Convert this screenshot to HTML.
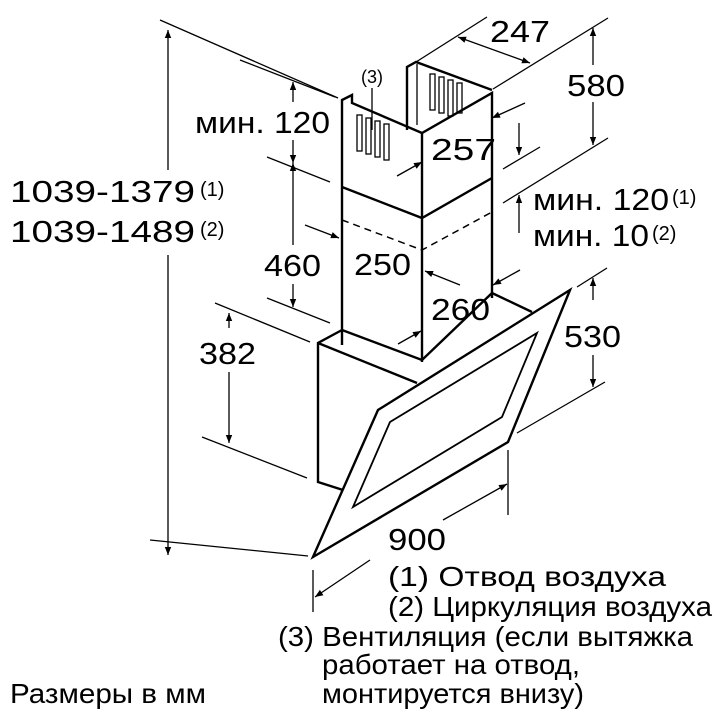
<!DOCTYPE html>
<html><head><meta charset="utf-8"><style>
html,body{margin:0;padding:0;background:#fff;}
svg{display:block;}
text{font-family:"Liberation Sans",sans-serif;fill:#000;}
</style></head><body>
<svg width="720" height="720" viewBox="0 0 720 720" xmlns="http://www.w3.org/2000/svg">
<defs>
<marker id="a" viewBox="0 0 10 10" refX="10" refY="5" markerWidth="10" markerHeight="8" orient="auto-start-reverse" markerUnits="userSpaceOnUse">
<path d="M0,1 L10,5 L0,9 Z" fill="#000"/>
</marker>
</defs>
<g stroke="#000" fill="none" stroke-width="1.3">
<line x1="160" y1="20" x2="338" y2="98"/>
<line x1="240" y1="60" x2="335" y2="97"/>
<line x1="267" y1="157" x2="330" y2="182"/>
<line x1="267" y1="298" x2="330" y2="323"/>
<line x1="215" y1="303" x2="310" y2="342"/>
<line x1="202" y1="437" x2="307" y2="478"/>
<line x1="150" y1="540" x2="308" y2="556"/>
<line x1="416" y1="62" x2="487" y2="17"/>
<line x1="493" y1="89" x2="608" y2="18"/>
<line x1="503" y1="169" x2="540" y2="147"/>
<line x1="503" y1="203" x2="608" y2="138"/>
<line x1="577" y1="287" x2="607" y2="268"/>
<line x1="517" y1="433" x2="605" y2="382"/>
<line x1="508" y1="450" x2="508" y2="515"/>
<line x1="313" y1="570" x2="313" y2="612"/>
<line x1="168" y1="30" x2="168" y2="170" marker-start="url(#a)"/>
<line x1="168" y1="255" x2="168" y2="555" marker-end="url(#a)"/>
<line x1="293" y1="82" x2="293" y2="102" marker-start="url(#a)"/>
<line x1="293" y1="140" x2="293" y2="163" marker-end="url(#a)"/>
<line x1="293" y1="163" x2="293" y2="245" marker-start="url(#a)"/>
<line x1="293" y1="284" x2="293" y2="307" marker-end="url(#a)"/>
<line x1="229" y1="313" x2="229" y2="328" marker-start="url(#a)"/>
<line x1="229" y1="372" x2="229" y2="443" marker-end="url(#a)"/>
<line x1="458" y1="37" x2="530" y2="63" marker-start="url(#a)" marker-end="url(#a)"/>
<line x1="593" y1="28" x2="593" y2="65" marker-start="url(#a)"/>
<line x1="593" y1="102" x2="593" y2="145" marker-end="url(#a)"/>
<line x1="525" y1="103" x2="492" y2="118" marker-end="url(#a)"/>
<line x1="519" y1="123" x2="519" y2="155" marker-end="url(#a)"/>
<line x1="519" y1="233" x2="519" y2="195" marker-end="url(#a)"/>
<line x1="397" y1="176" x2="422" y2="162" marker-end="url(#a)"/>
<line x1="305" y1="225" x2="339" y2="238" marker-end="url(#a)"/>
<line x1="460" y1="285" x2="425" y2="271" marker-end="url(#a)"/>
<line x1="398" y1="344" x2="421" y2="331" marker-end="url(#a)"/>
<line x1="520" y1="270" x2="493" y2="285" marker-end="url(#a)"/>
<line x1="593" y1="278" x2="593" y2="300" marker-start="url(#a)"/>
<line x1="593" y1="355" x2="593" y2="387" marker-end="url(#a)"/>
<line x1="443" y1="520" x2="507" y2="484" marker-end="url(#a)"/>
<line x1="370" y1="560" x2="315" y2="597" marker-end="url(#a)"/>
<line x1="372" y1="88" x2="372" y2="130"/>
</g>
<g stroke="#000" fill="none" stroke-width="2.4" stroke-linejoin="miter">
<polyline points="342,345 342,100 352,95 352,103 422,133 492,93 492,298"/>
<line x1="422" y1="133" x2="422" y2="362"/>
<polyline points="407,130 407,67 416,62 492,90"/>
<line x1="417" y1="64" x2="417" y2="125" stroke-width="1.3"/>
<polyline points="342,187 422,218 492,178"/>
<polyline points="342,330 422,360 492,293"/>
<polyline points="342,330 318,343 318,482 343,490"/>
<line x1="318" y1="343" x2="417" y2="383"/>
<polyline points="492,293 532,312"/>
<polygon points="570,290 508,442 313,557 378,410"/>
<polygon points="537,333 502,417 353,507 390,422" stroke-width="1.8"/>
</g>
<polyline points="342,220 422,250 492,212" stroke="#000" stroke-width="1.5" fill="none" stroke-dasharray="7,5"/>
<g stroke="#000" fill="none" stroke-width="1.3">
<rect x="357" y="115" width="5" height="36"/><rect x="366" y="118" width="5" height="36"/><rect x="375" y="121" width="5" height="36"/><rect x="384" y="124" width="5" height="36"/>
<rect x="430" y="74" width="5" height="36"/><rect x="439" y="77" width="5" height="36"/><rect x="448" y="80" width="5" height="36"/><rect x="457" y="83" width="5" height="30"/>
</g>
<g font-size="31">
<text x="10" y="202" textLength="185" lengthAdjust="spacingAndGlyphs">1039-1379</text><text x="200" y="196" font-size="20">(1)</text>
<text x="10" y="242" textLength="185" lengthAdjust="spacingAndGlyphs">1039-1489</text><text x="200" y="236" font-size="20">(2)</text>
<text x="195" y="133" textLength="135" lengthAdjust="spacingAndGlyphs">мин. 120</text>
<text x="264" y="276" textLength="57" lengthAdjust="spacingAndGlyphs">460</text>
<text x="199" y="364" textLength="57" lengthAdjust="spacingAndGlyphs">382</text>
<text x="490" y="42" textLength="60" lengthAdjust="spacingAndGlyphs">247</text>
<text x="567" y="96" textLength="58" lengthAdjust="spacingAndGlyphs">580</text>
<text x="431" y="160" textLength="65" lengthAdjust="spacingAndGlyphs">257</text>
<text x="354" y="275" textLength="57" lengthAdjust="spacingAndGlyphs">250</text>
<text x="431" y="320" textLength="59" lengthAdjust="spacingAndGlyphs">260</text>
<text x="564" y="347" textLength="57" lengthAdjust="spacingAndGlyphs">530</text>
<text x="388" y="550" textLength="58" lengthAdjust="spacingAndGlyphs">900</text>
<text x="533" y="210" textLength="136" lengthAdjust="spacingAndGlyphs">мин. 120</text><text x="672" y="204" font-size="20">(1)</text>
<text x="533" y="246" textLength="116" lengthAdjust="spacingAndGlyphs">мин. 10</text><text x="652" y="240" font-size="20">(2)</text>
</g>
<text x="361" y="83" font-size="18">(3)</text>
<g font-size="28">
<text x="388" y="586" textLength="278" lengthAdjust="spacingAndGlyphs">(1) Отвод воздуха</text>
<text x="388" y="616" textLength="324" lengthAdjust="spacingAndGlyphs">(2) Циркуляция воздуха</text>
<text x="278" y="646" textLength="415" lengthAdjust="spacingAndGlyphs">(3) Вентиляция (если вытяжка</text>
<text x="322" y="674" textLength="258" lengthAdjust="spacingAndGlyphs">работает на отвод,</text>
<text x="322" y="703" textLength="262" lengthAdjust="spacingAndGlyphs">монтируется внизу)</text>
<text x="10" y="703" textLength="196" lengthAdjust="spacingAndGlyphs">Размеры в мм</text>
</g>
</svg>
</body></html>
